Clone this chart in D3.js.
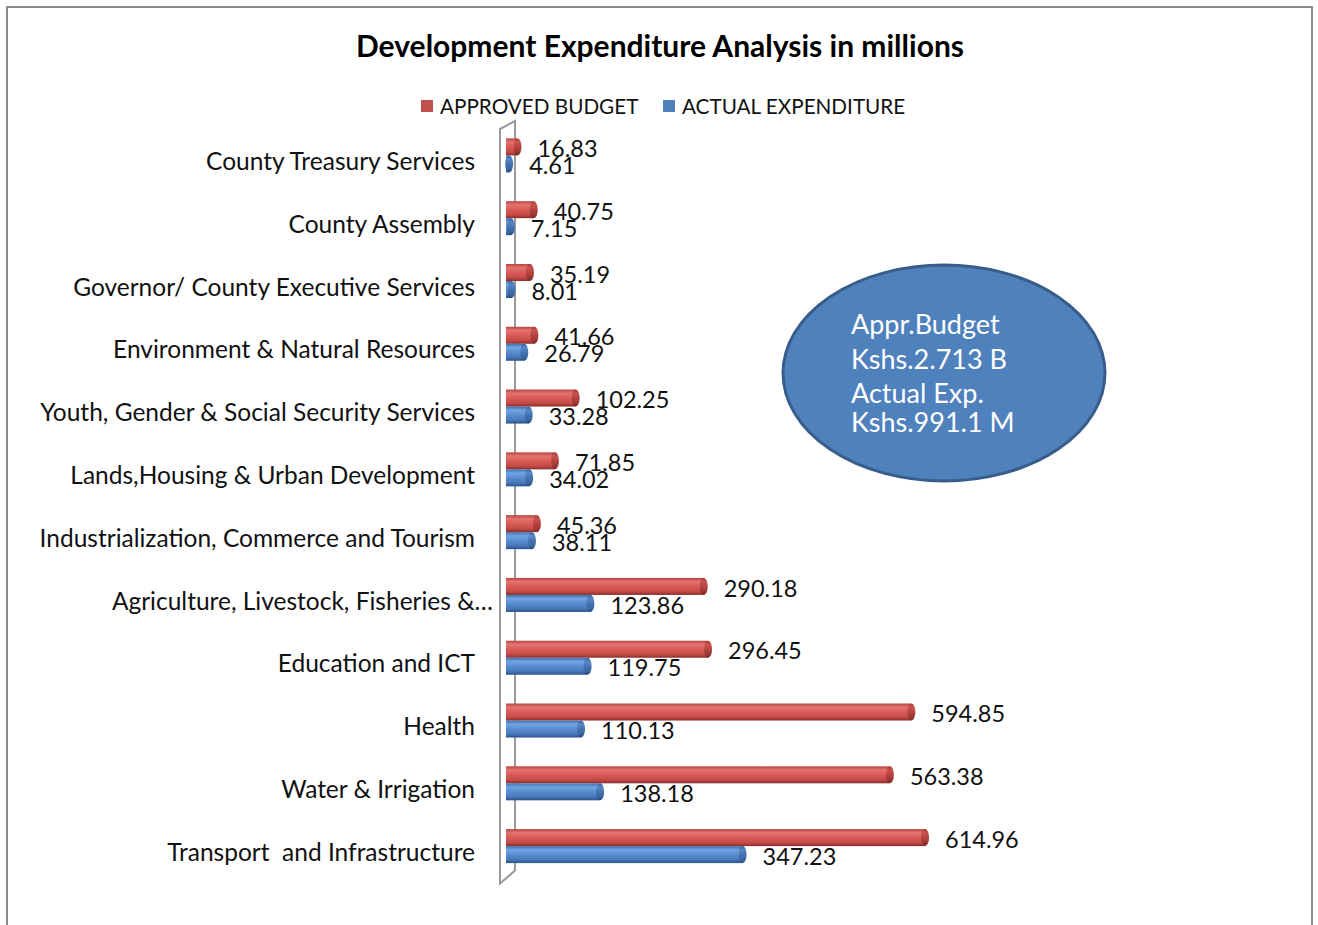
<!DOCTYPE html>
<html>
<head>
<meta charset="utf-8">
<script src="https://cdn.jsdelivr.net/npm/d3@7"></script>
<style>
  body { margin: 0; background: #fff; }
  svg { font-family: Lato, "Open Sans", sans-serif; }
  text { white-space: pre; }
</style>
</head>
<body>
<svg id="chart" width="1318" height="925"></svg>
<script>
let categories = ["County Treasury Services", "County Assembly", "Governor/ County Executive Services",
  "Environment & Natural Resources", "Youth, Gender & Social Security Services",
  "Lands,Housing & Urban Development", "Industrialization, Commerce and Tourism",
  "Agriculture, Livestock, Fisheries &\u2026", "Education and ICT", "Health",
  "Water & Irrigation", "Transport  and Infrastructure"];
let approved = [16.83, 40.75, 35.19, 41.66, 102.25, 71.85, 45.36, 290.18, 296.45, 594.85, 563.38, 614.96];
let actual = [4.61, 7.15, 8.01, 26.79, 33.28, 34.02, 38.11, 123.86, 119.75, 110.13, 138.18, 347.23];
let seriesNames = ["APPROVED BUDGET", "ACTUAL EXPENDITURE"];
let noteLines = ["Appr.Budget", "Kshs.2.713 B", "Actual Exp.", "Kshs.991.1 M"];

let svg = d3.select("#chart");
let barH = 17;

// frame
svg.append("rect")
  .attr("x", 7).attr("y", 7).attr("width", 1305).attr("height", 940)
  .attr("fill", "#fff").attr("stroke", "#8c8c8c").attr("stroke-width", 2);

// gradients for the cylinder look
let defs = svg.append("defs");
let grads = {
  red: ["#b9433f", "#e37470", "#d95a56", "#c54b47", "#8a2d2a"],
  blue: ["#3f6fae", "#72a4e2", "#588dd0", "#4878ba", "#2b5189"],
  redCap: ["#a53a36", "#c9524e", "#b64440", "#9a3633", "#7a2624"],
  blueCap: ["#355f99", "#5688c8", "#4673b0", "#3a65a0", "#24477a"]
};
Object.keys(grads).forEach(k => {
  let g = defs.append("linearGradient").attr("id", "g-" + k)
    .attr("x1", 0).attr("y1", 0).attr("x2", 0).attr("y2", 1);
  [0, 0.22, 0.5, 0.8, 1].forEach((o, i) => {
    g.append("stop").attr("offset", o).attr("stop-color", grads[k][i]);
  });
});

// title
svg.append("text")
  .attr("x", 660).attr("y", 57)
  .attr("text-anchor", "middle")
  .attr("font-size", 30).attr("font-weight", "bold")
  .text("Development Expenditure Analysis in millions");

// legend
let legendX = [421, 663];
let legendCol = ["#c0504d", "#4f81bd"];
seriesNames.forEach((name, i) => {
  svg.append("rect").attr("x", legendX[i]).attr("y", 100).attr("width", 12).attr("height", 12)
    .attr("fill", legendCol[i]);
  svg.append("text").attr("x", legendX[i] + 19).attr("y", 114)
    .attr("font-size", 20.7).attr("fill", "#111").text(name);
});

// scales
let x = d3.scaleLinear().domain([0, 700]).range([506, 983]);
let y = d3.scaleBand().domain(categories).range([124, 877.5]);

// 3-D wall
let wTop = y.range()[0], wBot = y.range()[1];
svg.append("path")
  .attr("d", `M500,${wTop + 5} L515,${wTop - 3} L515,${wBot - 7} L500,${wBot + 6} Z`)
  .attr("fill", "none").attr("stroke", "#9a9a9a").attr("stroke-width", 2);

// category axis
let yAxis = d3.axisLeft(y).tickSize(0).tickPadding(0);
let axisG = svg.append("g").attr("transform", "translate(475,0)").call(yAxis);
axisG.select(".domain").remove();
axisG.selectAll("text")
  .attr("font-family", "Lato, 'Open Sans', sans-serif")
  .attr("font-size", 24.5).attr("fill", "#111")
  .attr("dy", "0.35em")
  .attr("transform", d => d.startsWith("Agriculture") ? "translate(18,6)" : "translate(0,6)");

// bars
function drawSeries(values, offset, key, labelDy) {
  let g = svg.append("g");
  let rows = g.selectAll("g").data(values).enter().append("g");
  let top = (d, i) => y(categories[i]) + y.bandwidth() / 2 + offset;
  rows.append("rect")
    .attr("x", x(0))
    .attr("y", top)
    .attr("width", d => x(d) - x(0))
    .attr("height", barH)
    .attr("fill", "url(#g-" + key + ")");
  rows.append("ellipse")
    .attr("cx", d => x(d))
    .attr("cy", (d, i) => top(d, i) + barH / 2)
    .attr("rx", 4).attr("ry", barH / 2)
    .attr("fill", "url(#g-" + key + "Cap)");
  rows.append("text")
    .attr("x", d => x(d) + 20)
    .attr("y", (d, i) => top(d, i) + barH / 2 + labelDy)
    .attr("dy", "0.35em")
    .attr("font-size", 23.5).attr("fill", "#111")
    .text(d => d.toFixed(2));
}
drawSeries(approved, -barH, "red", 2);
drawSeries(actual, 0, "blue", 2);

// callout ellipse
svg.append("ellipse")
  .attr("cx", 944).attr("cy", 373).attr("rx", 161).attr("ry", 108)
  .attr("fill", "#4f81bd").attr("stroke", "#385d8a").attr("stroke-width", 3);
let noteY = [334, 369, 403, 432];
noteLines.forEach((t, i) => {
  svg.append("text").attr("x", 851).attr("y", noteY[i])
    .attr("font-size", 27).attr("fill", "#fff").text(t);
});
</script>
</body>
</html>
